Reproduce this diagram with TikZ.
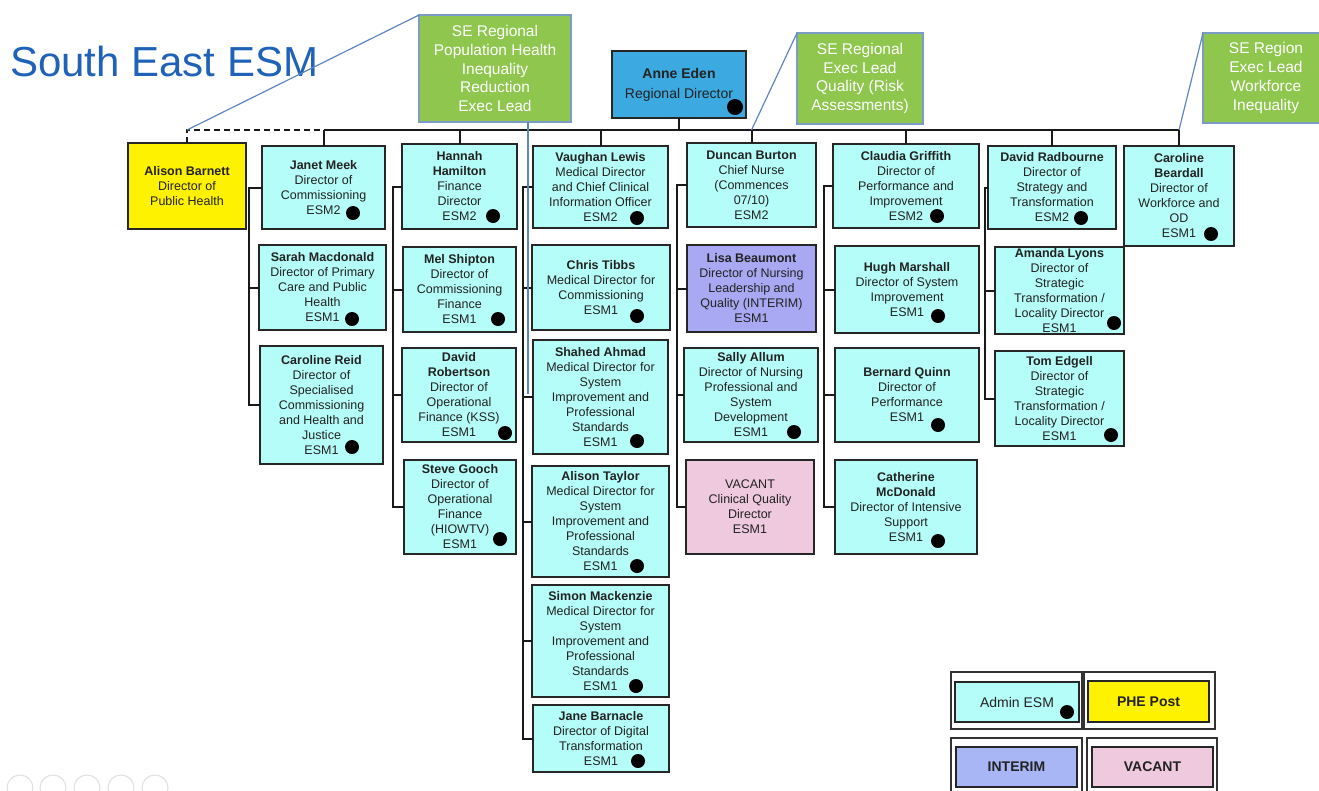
\documentclass[tikz,border=0pt]{standalone}
\usepackage{fontspec}
\setmainfont{Liberation Sans}
\definecolor{cyanf}{HTML}{B5FDF8}
\definecolor{txt}{HTML}{222222}
\definecolor{greenf}{HTML}{8FC74E}
\definecolor{greenb}{HTML}{7A9CC6}
\definecolor{aeblue}{HTML}{3CAAE0}
\definecolor{interimf}{HTML}{A8A9F2}
\definecolor{interiml}{HTML}{A9B6F5}
\definecolor{vacantf}{HTML}{EFC9DE}
\definecolor{titleblue}{HTML}{1F62B8}
\definecolor{calloutc}{HTML}{5E86C1}
\newcommand\esmdot[2]{\fill[black] (#1,#2) circle (7pt);}
\begin{document}
\begin{tikzpicture}[x=1pt,y=-1pt,
  conn/.style={draw=black!90, line width=2pt},
  callout/.style={draw=calloutc, line width=1.2pt},
  person/.style={draw=black!85, line width=1.8pt, fill=cyanf, text=txt,
    font=\fontsize{12.5}{15}\selectfont, align=center, inner sep=0pt, outer sep=0pt},
  greenbox/.style={draw=greenb, line width=1.1pt, fill=greenf, text=white,
    font=\fontsize{15.5}{18.8}\selectfont, align=center, inner sep=0pt, outer sep=0pt},
  legbox/.style={draw=black!85, line width=1.8pt, text=txt,
    font=\fontsize{14}{16}\selectfont, align=center, inner sep=0pt, outer sep=0pt},
  legframe/.style={draw=black!80, line width=1.6pt}]
\useasboundingbox (0,0) rectangle (1319,790);
\clip (0,0) rectangle (1319,790);

% title
\node[anchor=base west, text=titleblue, font=\fontsize{42}{48}\selectfont, inner sep=0pt] (title) at (10,76) {South East ESM};

% faint icons
\foreach \cx in {20,53,87,121,155} \draw[gray!25, line width=1pt] (\cx,788) circle (13pt);

% top
\node[person, fill=aeblue, minimum width=134pt, minimum height=67pt, font=\fontsize{14}{20}\selectfont] (ae) at (679,84.5) {\textbf{Anne Eden}\\Regional Director};

% column 0
\node[person, fill=yellow, minimum width=118pt, minimum height=86pt] (ab) at (187,186) {\textbf{Alison Barnett}\\Director of\\Public Health};

% column 1
\node[person, minimum width=123pt, minimum height=83pt] (jm) at (323.5,187.5) {\textbf{Janet Meek}\\Director of\\Commissioning\\ESM2};
\node[person, minimum width=127pt, minimum height=85pt] (sm) at (322.5,287.5) {\textbf{Sarah Macdonald}\\Director of Primary\\Care and Public\\Health\\ESM1};
\node[person, minimum width=123pt, minimum height=118pt] (cr) at (321.5,405) {\textbf{Caroline Reid}\\Director of\\Specialised\\Commissioning\\and Health and\\Justice\\ESM1};

% column 2
\node[person, minimum width=115pt, minimum height=85pt] (hh) at (459.5,186.5) {\textbf{Hannah}\\\textbf{Hamilton}\\Finance\\Director\\ESM2};
\node[person, minimum width=113pt, minimum height=85pt] (ms) at (459.5,289.5) {\textbf{Mel Shipton}\\Director of\\Commissioning\\Finance\\ESM1};
\node[person, minimum width=114pt, minimum height=94pt] (dro) at (459,395) {\textbf{David}\\\textbf{Robertson}\\Director of\\Operational\\Finance (KSS)\\ESM1};
\node[person, minimum width=112pt, minimum height=94pt] (sg) at (460,507) {\textbf{Steve Gooch}\\Director of\\Operational\\Finance\\(HIOWTV)\\ESM1};

% column 3
\node[person, minimum width=135pt, minimum height=82pt] (vl) at (600.5,187) {\textbf{Vaughan Lewis}\\Medical Director\\and Chief Clinical\\Information Officer\\ESM2};
\node[person, minimum width=138pt, minimum height=85pt] (ct) at (601,287.5) {\textbf{Chris Tibbs}\\Medical Director for\\Commissioning\\ESM1};
\node[person, minimum width=135pt, minimum height=114pt] (sa) at (600.5,397) {\textbf{Shahed Ahmad}\\Medical Director for\\System\\Improvement and\\Professional\\Standards\\ESM1};
\node[person, minimum width=137pt, minimum height=111pt] (at) at (600.5,521.5) {\textbf{Alison Taylor}\\Medical Director for\\System\\Improvement and\\Professional\\Standards\\ESM1};
\node[person, minimum width=137pt, minimum height=112pt] (smk) at (600.5,641) {\textbf{Simon Mackenzie}\\Medical Director for\\System\\Improvement and\\Professional\\Standards\\ESM1};
\node[person, minimum width=136pt, minimum height=67pt] (jb) at (601,738.5) {\textbf{Jane Barnacle}\\Director of Digital\\Transformation\\ESM1};

% column 4
\node[person, minimum width=129pt, minimum height=84pt] (db) at (751.5,185) {\textbf{Duncan Burton}\\Chief Nurse\\(Commences\\07/10)\\ESM2};
\node[person, fill=interimf, minimum width=129pt, minimum height=87pt] (lb) at (751.5,288.5) {\textbf{Lisa Beaumont}\\Director of Nursing\\Leadership and\\Quality (INTERIM)\\ESM1};
\node[person, minimum width=134pt, minimum height=94pt] (sal) at (751,395) {\textbf{Sally Allum}\\Director of Nursing\\Professional and\\System\\Development\\ESM1};
\node[person, fill=vacantf, minimum width=128pt, minimum height=94pt] (vac) at (750,507) {VACANT\\Clinical Quality\\Director\\ESM1};

% column 5
\node[person, minimum width=146pt, minimum height=84pt] (cg) at (906,186) {\textbf{Claudia Griffith}\\Director of\\Performance and\\Improvement\\ESM2};
\node[person, minimum width=144pt, minimum height=87pt] (hm) at (907,289.5) {\textbf{Hugh Marshall}\\Director of System\\Improvement\\ESM1};
\node[person, minimum width=144pt, minimum height=94pt] (bq) at (907,395) {\textbf{Bernard Quinn}\\Director of\\Performance\\ESM1};
\node[person, minimum width=142pt, minimum height=94pt] (cm) at (906,507) {\textbf{Catherine}\\\textbf{McDonald}\\Director of Intensive\\Support\\ESM1};

% column 6
\node[person, minimum width=128pt, minimum height=83pt] (dr) at (1052,187.5) {\textbf{David Radbourne}\\Director of\\Strategy and\\Transformation\\ESM2};
\node[person, minimum width=129pt, minimum height=87pt] (al) at (1059.5,290.5) {\textbf{Amanda Lyons}\\Director of\\Strategic\\Transformation /\\Locality Director\\ESM1};
\node[person, minimum width=129pt, minimum height=95pt] (te) at (1059.5,398.5) {\textbf{Tom Edgell}\\Director of\\Strategic\\Transformation /\\Locality Director\\ESM1};

% column 7
\node[person, minimum width=110pt, minimum height=100pt] (cb) at (1179,196) {\textbf{Caroline}\\\textbf{Beardall}\\Director of\\Workforce and\\OD\\ESM1};

% bus and drops
\coordinate (bus) at (0,130);
\draw[conn] (ae.south) -- (ae.south |- bus);
\draw[conn] (jm.north |- bus) -- (cb.north |- bus);
\foreach \n in {jm,hh,vl,db,cg,dr,cb} \draw[conn] (\n.north |- bus) -- (\n.north);
\draw[conn, dash pattern=on 6pt off 4pt] (ab.north) -- (ab.north |- bus) -- (jm.north |- bus);

% column spines
\draw[conn] (jm.west) -- ++(-13,0) coordinate (s1) |- (cr.west);
\draw[conn] (s1) |- (sm.west);
\draw[conn] (hh.west) -- ++(-9,0) coordinate (s2) |- (sg.west);
\draw[conn] (s2) |- (ms.west);
\draw[conn] (s2) |- (dro.west);
\draw[conn] (vl.west) -- ++(-10,0) coordinate (s3) |- (jb.west);
\draw[conn] (s3) |- (ct.west);
\draw[conn] (s3) |- (sa.west);
\draw[conn] (s3) |- (at.west);
\draw[conn] (s3) |- (smk.west);
\draw[conn] (db.west) -- ++(-10,0) coordinate (s4) |- (vac.west);
\draw[conn] (s4) |- (lb.west);
\draw[conn] (s4) |- (sal.west);
\draw[conn] (cg.west) -- ++(-9,0) coordinate (s5) |- (cm.west);
\draw[conn] (s5) |- (hm.west);
\draw[conn] (s5) |- (bq.west);
\draw[conn] (dr.west) -- ++(-3,0) coordinate (s6) |- (te.west);
\draw[conn] (s6) |- (al.west);

% green callouts
\node[greenbox, minimum width=152pt, minimum height=107pt] (g1) at (495,68.5) {SE Regional\\Population Health\\Inequality\\Reduction\\Exec Lead};
\node[greenbox, minimum width=126pt, minimum height=91pt] (g2) at (860,78.5) {SE Regional\\Exec Lead\\Quality (Risk\\Assessments)};
\node[greenbox, minimum width=126pt, minimum height=90pt] (g3) at (1266,78) {SE Region\\Exec Lead\\Workforce\\Inequality};
\coordinate (g1end) at (528,394);
\draw[callout] (ab.north |- bus) -- (g1.north west);
\draw[callout] (g1.south -| g1end) -- (g1end);
\draw[callout] (g2.north west) -- (db.north |- bus);
\draw[callout] (g3.north west) -- (cb.north |- bus);

% dots
\fill[black] (735,107) circle (8pt);
\esmdot{353}{213}
\esmdot{493}{216}
\esmdot{637}{218}
\esmdot{937}{216}
\esmdot{1081}{218}
\esmdot{1211}{234}
\esmdot{352}{319}
\esmdot{498}{319}
\esmdot{637}{316}
\esmdot{938}{316}
\esmdot{1114}{323}
\esmdot{352}{447}
\esmdot{505}{433}
\esmdot{637}{441}
\esmdot{794}{432}
\esmdot{938}{425}
\esmdot{1111}{435}
\esmdot{500}{539}
\esmdot{637}{566}
\esmdot{938}{541}
\esmdot{636}{686}
\esmdot{638}{761}

% legend
\draw[legframe] (951,672) rectangle (1082,729);
\draw[legframe] (1084,672) rectangle (1215,729);
\draw[legframe] (951,738) rectangle (1082,796);
\draw[legframe] (1087,738) rectangle (1217,796);
\node[legbox, fill=cyanf, minimum width=124pt, minimum height=40pt] (la) at (1017,702) {Admin ESM};
\node[legbox, fill=yellow, minimum width=121pt, minimum height=41pt] (lp) at (1148.5,701.5) {\textbf{PHE Post}};
\node[legbox, fill=interiml, minimum width=121pt, minimum height=40pt] (li) at (1016.5,767) {\textbf{INTERIM}};
\node[legbox, fill=vacantf, minimum width=121pt, minimum height=40pt] (lv) at (1152.5,767) {\textbf{VACANT}};
\esmdot{1067}{712}
\end{tikzpicture}
\end{document}
